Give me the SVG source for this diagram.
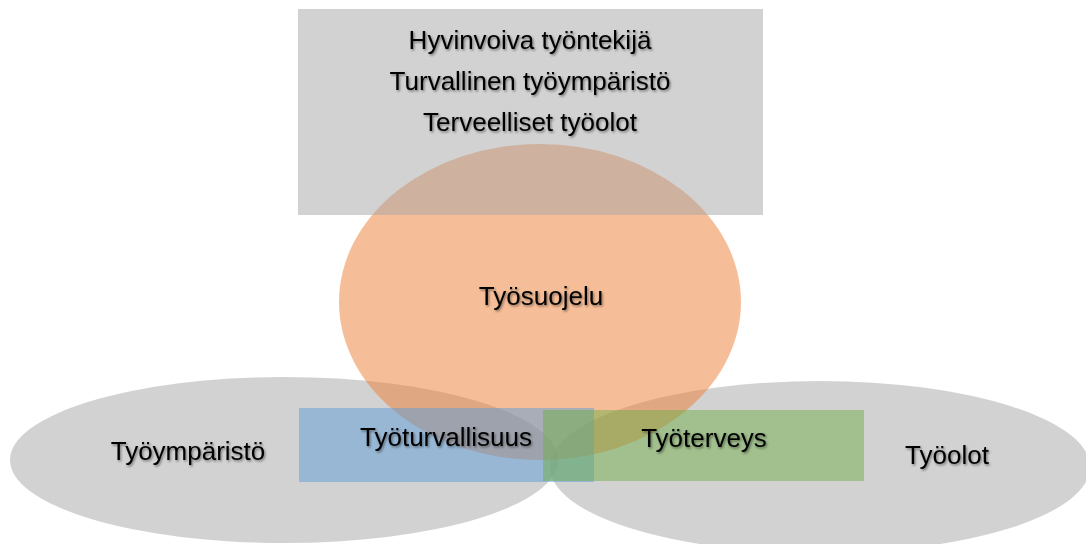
<svg xmlns="http://www.w3.org/2000/svg" width="1086" height="544" viewBox="0 0 1086 544">
  <defs>
    <filter id="shadow" x="-10%" y="-30%" width="120%" height="160%">
      <feDropShadow dx="1.2" dy="1.5" stdDeviation="0.9" flood-color="#000" flood-opacity="0.45"/>
    </filter>
    <style>
      .lbl { font-family: "Liberation Sans", Arial, sans-serif; font-size: 26px; fill: #000; text-anchor: middle; filter: url(#shadow); }
      .gray { fill: #A5A5A5; fill-opacity: 0.5; }
      .orange { fill: #ED7D31; fill-opacity: 0.5; }
      .blue { fill: #5B9BD5; fill-opacity: 0.5; }
      .green { fill: #70AD47; fill-opacity: 0.5; }
    </style>
  </defs>
  <rect width="1086" height="544" fill="#fff"/>
  <g id="tyoymparisto">
    <ellipse class="gray" cx="284" cy="460" rx="274" ry="83"/>
  </g>
  <g id="tyoolot">
    <ellipse class="gray" cx="820" cy="467" rx="270" ry="86"/>
  </g>
  <g id="tyosuojelu">
    <ellipse class="orange" cx="540" cy="302" rx="201" ry="158"/>
  </g>
  <g id="tavoitteet">
    <rect class="gray" x="298" y="9" width="465" height="206"/>
    <text class="lbl" x="530" y="49">Hyvinvoiva työntekijä</text>
    <text class="lbl" x="530" y="90">Turvallinen työympäristö</text>
    <text class="lbl" x="530" y="131">Terveelliset työolot</text>
  </g>
  <g id="tyoturvallisuus">
    <rect class="blue" x="299" y="408" width="295" height="74"/>
  </g>
  <g id="tyoterveys">
    <rect class="green" x="543" y="410" width="321" height="71"/>
  </g>
  <g id="labels">
    <text class="lbl" x="541" y="305">Työsuojelu</text>
    <text class="lbl" x="188" y="460">Työympäristö</text>
    <text class="lbl" x="446" y="446">Työturvallisuus</text>
    <text class="lbl" x="704" y="447">Työterveys</text>
    <text class="lbl" x="947" y="464">Työolot</text>
  </g>
  <g id="connectors"/>
</svg>
